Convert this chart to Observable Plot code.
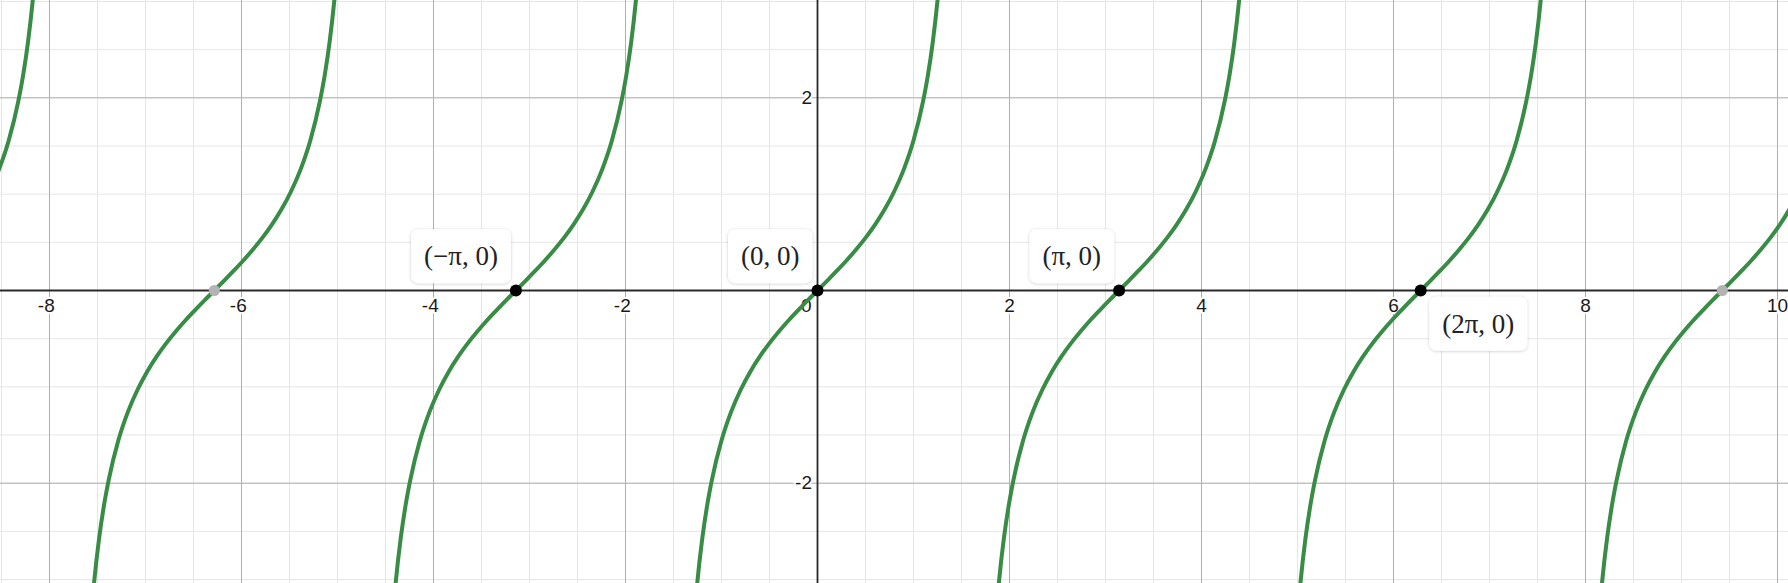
<!DOCTYPE html>
<html><head><meta charset="utf-8">
<script src="https://cdn.jsdelivr.net/npm/d3@7"></script>
<script src="https://cdn.jsdelivr.net/npm/@observablehq/plot@0.6"></script>
<style>
html,body{margin:0;padding:0;background:#fff;overflow:hidden}
svg{display:block}
</style></head><body><div id="chart"></div>
<script>
// ---- data ----
const xMajorGrid = [-8, -6, -4, -2, 2, 4, 6, 8, 10];
const yMajorGrid = [-2, 2];
const xMinorGrid = [-8.5, -8, -7.5, -7, -6.5, -6, -5.5, -5, -4.5, -4, -3.5, -3, -2.5, -2, -1.5, -1, -0.5,
  0.5, 1, 1.5, 2, 2.5, 3, 3.5, 4, 4.5, 5, 5.5, 6, 6.5, 7, 7.5, 8, 8.5, 9, 9.5, 10];
const yMinorGrid = [-3, -2.5, -2, -1.5, -1, -0.5, 0.5, 1, 1.5, 2, 2.5, 3];
const xTickValues = [-8, -6, -4, -2, 2, 4, 6, 8, 10];
const xTickLabels = ["-8", "-6", "-4", "-2", "2", "4", "6", "8", "10"];
const yTickValues = [-2, 2];
const yTickLabels = ["-2", "2"];
const originLabel = ["0"];

// y = tan(x): one branch (offset from its zero crossing -> y)
const branchOffsets = [-1.35, -1.3, -1.25, -1.2, -1.15, -1.1, -1.0, -0.9, -0.8, -0.7, -0.6, -0.5, -0.4, -0.3, -0.2, -0.1, 0,
  0.1, 0.2, 0.3, 0.4, 0.5, 0.6, 0.7, 0.8, 0.9, 1.0, 1.1, 1.15, 1.2, 1.25, 1.3, 1.35];
const branchValues = [-4.455, -3.602, -3.010, -2.572, -2.234, -1.965, -1.557, -1.260, -1.030, -0.842, -0.684, -0.546, -0.423, -0.309, -0.203, -0.100, 0,
  0.100, 0.203, 0.309, 0.423, 0.546, 0.684, 0.842, 1.030, 1.260, 1.557, 1.965, 2.234, 2.572, 3.010, 3.602, 4.455];
// zero crossings of the branches (multiples of pi)
const branchCenters = [-3 * Math.PI, -2 * Math.PI, -Math.PI, 0, Math.PI, 2 * Math.PI, 3 * Math.PI];

const markedZerosX = [-Math.PI, 0, Math.PI, 2 * Math.PI];
const markedZerosLabel = ["(−π, 0)", "(0, 0)", "(π, 0)", "(2π, 0)"];
const markedZerosSide = ["above", "above", "above", "below"];
const fadedZerosX = [-2 * Math.PI, 3 * Math.PI];

// ---- tables ----
const curve = branchCenters.flatMap((c, b) => branchOffsets.map((o, i) => ({x: c + o, y: branchValues[i], branch: b})));
const xTicks = xTickValues.map((v, i) => ({v, label: xTickLabels[i], neg: xTickLabels[i].startsWith("-")}));
const yTicks = yTickValues.map((v, i) => ({v, label: yTickLabels[i]}));
const marked = markedZerosX.map((x, i) => ({x, y: 0, label: markedZerosLabel[i], side: markedZerosSide[i]}));
const faded = fadedZerosX.map(x => ({x, y: 0}));

const tickFont = {fontFamily: "'Liberation Sans', Arial, sans-serif", fontSize: 19, fill: "#1a1a1a", stroke: "white", strokeWidth: 4, paintOrder: "stroke"};
const labelFont = {fontFamily: "'Liberation Serif', 'Times New Roman', serif", fontSize: 27, fill: "#222"};

const chart = Plot.plot({
  width: 1788,
  height: 583,
  margin: 0,
  x: {domain: [-817 / 96, (1788 - 817) / 96], axis: null},
  y: {domain: [-(583 - 290) / 96.35, 290 / 96.35], axis: null},
  style: {background: "white"},
  marks: [
    Plot.ruleX(xMinorGrid, {stroke: "#e6e6e6", strokeWidth: 1}),
    Plot.ruleY(yMinorGrid, {stroke: "#e6e6e6", strokeWidth: 1}),
    Plot.ruleX(xMajorGrid, {stroke: "#b0b0b0", strokeWidth: 1}),
    Plot.ruleY(yMajorGrid, {stroke: "#b0b0b0", strokeWidth: 1}),
    Plot.ruleX([0], {stroke: "#2a2a2a", strokeWidth: 1.8}),
    Plot.ruleY([0], {stroke: "#2a2a2a", strokeWidth: 1.8}),
    // x tick labels (digits centred on the grid line, minus hanging left)
    Plot.text(xTicks.filter(d => !d.neg), {x: "v", y: () => 0, text: "label", lineAnchor: "top", dy: 7.5, ...tickFont}),
    Plot.text(xTicks.filter(d => d.neg), {x: "v", y: () => 0, text: "label", lineAnchor: "top", dy: 7.5, dx: -3.2, ...tickFont}),
    Plot.text(originLabel, {x: () => 0, y: () => 0, text: d => d, textAnchor: "end", lineAnchor: "top", dx: -6, dy: 7.5, ...tickFont}),
    Plot.text(yTicks, {x: () => 0, y: "v", text: "label", textAnchor: "end", dx: -5.5, ...tickFont}),
    // curve
    Plot.line(curve, {x: "x", y: "y", z: "branch", stroke: "#388c46", strokeWidth: 4, curve: "monotone-x", clip: true}),
    // points
    Plot.dot(faded, {x: "x", y: "y", r: 5.5, fill: "#b3b3b3", stroke: "none"}),
    Plot.dot(marked, {x: "x", y: "y", r: 6, fill: "#000", stroke: "none"}),
    // labels
    Plot.text(marked.filter(d => d.side === "above"), {x: "x", y: "y", text: "label", textAnchor: "end", dx: -18, dy: -34, className: "ptlabel", ...labelFont}),
    Plot.text(marked.filter(d => d.side === "below"), {x: "x", y: "y", text: "label", textAnchor: "start", dx: 21.5, dy: 33.5, className: "ptlabel", ...labelFont})
  ]
});

document.getElementById("chart").append(chart);

// rounded white boxes behind the point labels
const ns = "http://www.w3.org/2000/svg";
const defs = document.createElementNS(ns, "defs");
defs.innerHTML = `<filter id="boxshadow" x="-20%" y="-30%" width="140%" height="160%"><feDropShadow dx="0" dy="0.5" stdDeviation="1.6" flood-color="#000" flood-opacity="0.22"/></filter>`;
chart.insertBefore(defs, chart.firstChild);
const padX = 13, boxH = 54;
chart.querySelectorAll("g.ptlabel text").forEach(t => {
  const bb = t.getBBox();
  const cy = bb.y + bb.height / 2;
  const r = document.createElementNS(ns, "rect");
  r.setAttribute("x", bb.x - padX);
  r.setAttribute("y", cy - boxH / 2);
  r.setAttribute("width", bb.width + 2 * padX);
  r.setAttribute("height", boxH);
  r.setAttribute("rx", 7);
  r.setAttribute("fill", "white");
  r.setAttribute("filter", "url(#boxshadow)");
  const tr = t.getAttribute("transform");
  if (tr) r.setAttribute("transform", tr);
  t.parentNode.insertBefore(r, t);
});
</script></body></html>
